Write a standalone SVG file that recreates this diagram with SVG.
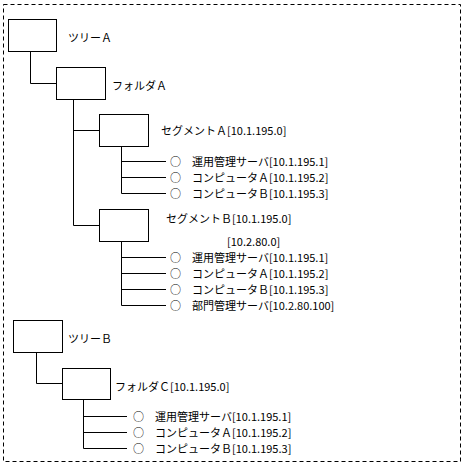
<svg xmlns="http://www.w3.org/2000/svg" width="467" height="470" viewBox="0 0 467 470">
<style>
.box{fill:#fff;stroke:#000;stroke-width:1}
.ln{fill:none;stroke:#000;stroke-width:1}
.frame{fill:none;stroke:#000;stroke-width:1;stroke-dasharray:4,3}
text{font-family:"Noto Sans CJK JP","Liberation Sans",sans-serif;font-size:11px;fill:#000}
</style>
<rect width="467" height="470" fill="#fff"/>
<rect class="frame" x="3.5" y="4.5" width="457" height="457"/>
<g id="connectors">
<path class="ln" d="M30.5,51.5 V83.5 H56.5"/>
<path class="ln" d="M73.5,99.5 V225.5 H99.5 M73.5,130.5 H99.5"/>
<path class="ln" d="M121.5,146.5 V193.5 M121.5,161.5 H166 M121.5,177.5 H166 M121.5,193.5 H166"/>
<path class="ln" d="M121.5,241.5 V305.5 M121.5,257.5 H166 M121.5,273.5 H166 M121.5,289.5 H166 M121.5,305.5 H166"/>
<path class="ln" d="M36.5,352.5 V383.5 H62.5"/>
<path class="ln" d="M83.5,399.5 V448.5 M83.5,416.5 H127 M83.5,432.5 H127 M83.5,448.5 H127"/>
</g>
<g id="treeA"><rect class="box" x="8.5" y="19.5" width="48" height="32"/><text x="68" y="42">ツリーＡ</text></g>
<g id="folderA"><rect class="box" x="56.5" y="67.5" width="49" height="32"/><text x="112" y="90">フォルダＡ</text></g>
<g id="segmentA"><rect class="box" x="99.5" y="114.5" width="49" height="32"/><text x="161" y="135">セグメントＡ[10.1.195.0]</text></g>
<g id="segA-items">
<text x="170" y="166">○　運用管理サーバ[10.1.195.1]</text>
<text x="170" y="182">○　コンピュータＡ[10.1.195.2]</text>
<text x="170" y="198">○　コンピュータＢ[10.1.195.3]</text>
</g>
<g id="segmentB"><rect class="box" x="99.5" y="209.5" width="49" height="32"/><text x="166" y="223">セグメントＢ[10.1.195.0]</text><text x="227" y="246">[10.2.80.0]</text></g>
<g id="segB-items">
<text x="170" y="262">○　運用管理サーバ[10.1.195.1]</text>
<text x="170" y="278">○　コンピュータＡ[10.1.195.2]</text>
<text x="170" y="294">○　コンピュータＢ[10.1.195.3]</text>
<text x="170" y="310">○　部門管理サーバ[10.2.80.100]</text>
</g>
<g id="treeB"><rect class="box" x="13.5" y="320.5" width="49" height="32"/><text x="68" y="343">ツリーＢ</text></g>
<g id="folderC"><rect class="box" x="62.5" y="368.5" width="48" height="31"/><text x="115" y="391">フォルダＣ[10.1.195.0]</text></g>
<g id="folderC-items">
<text x="133" y="421">○　運用管理サーバ[10.1.195.1]</text>
<text x="133" y="437">○　コンピュータＡ[10.1.195.2]</text>
<text x="133" y="453">○　コンピュータＢ[10.1.195.3]</text>
</g>
</svg>
